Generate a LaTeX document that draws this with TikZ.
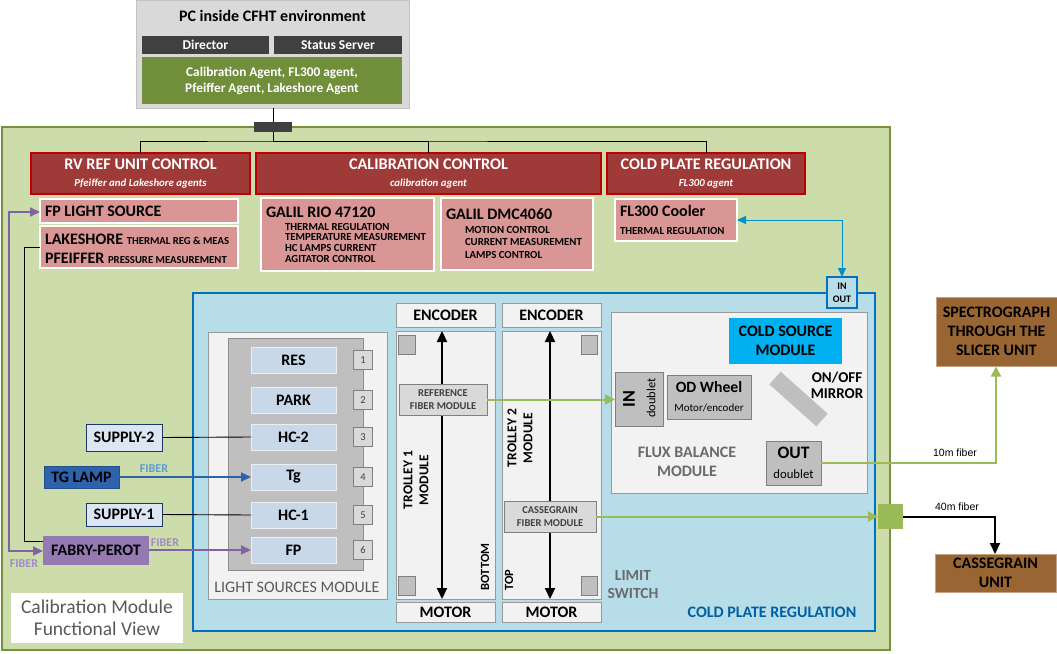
\documentclass[tikz,border=0pt]{standalone}
\usepackage{fontspec}
\setmainfont{Carlito}
\newfontfamily\arialf{Liberation Sans}
\usetikzlibrary{arrows.meta}
\definecolor{bgGreen}{HTML}{CDDCAB}
\definecolor{oliveB}{HTML}{76923C}
\definecolor{darkRed}{HTML}{9E3A37}
\definecolor{redB}{HTML}{C00000}
\definecolor{pinkF}{HTML}{D99694}
\definecolor{coldF}{HTML}{B7DDE8}
\definecolor{coldB}{HTML}{0070C0}
\definecolor{lightG}{HTML}{F2F2F2}
\definecolor{midG}{HTML}{BFBFBF}
\definecolor{lampF}{HTML}{C9D8E8}
\definecolor{brownF}{HTML}{996633}
\definecolor{tgF}{HTML}{2E63AB}
\definecolor{fpF}{HTML}{9479B3}
\definecolor{purpleL}{HTML}{8064A2}
\definecolor{fibGreen}{HTML}{9BBB59}
\definecolor{supF}{HTML}{DCE6F2}
\definecolor{supB}{HTML}{1F3864}
\definecolor{grayT}{HTML}{595959}
\definecolor{dkGray}{HTML}{404040}
\definecolor{pcG}{HTML}{D9D9D9}
\definecolor{agentG}{HTML}{718E3A}
\definecolor{cyanF}{HTML}{00B0F0}
\definecolor{fiberBlue}{HTML}{5B9BD5}
\definecolor{fiberPurp}{HTML}{A08CC4}
\tikzset{
  box/.style={inner sep=0pt, outer sep=0pt},
  hdr/.style={box, fill=darkRed, draw=redB, line width=1.2pt},
  pinkbox/.style={box, fill=pinkF, draw=white, line width=1.2pt},
  lamp/.style={box, fill=lampF, draw=lampF!80!black!20, line width=0.6pt, font=\bfseries\fontsize{16}{18}\selectfont},
  numbox/.style={box, fill=pcG, draw=gray, line width=1pt, font=\fontsize{10.5}{12}\selectfont, text=dkGray},
  lightbox/.style={box, fill=lightG, draw=gray!80, line width=1pt},
  graybox/.style={box, fill=midG, draw=gray, line width=1pt},
  sq/.style={box, fill=midG, draw=gray, line width=0.8pt},
  supply/.style={box, fill=supF, draw=supB, line width=1pt, font=\bfseries\fontsize{16}{18}\selectfont},
  wire/.style={black, line width=0.9pt},
  garrow/.style={fibGreen, line width=2pt, -{Triangle[length=10pt,width=10pt]}},
  btext/.style={font=\bfseries\fontsize{16}{18}\selectfont},
  lbl/.style={inner sep=0pt, outer sep=0pt}
}
\begin{document}
\begin{tikzpicture}[x=1pt,y=-1pt]
\useasboundingbox (0,0) rectangle (1057,653);
% main green area
\draw[fill=bgGreen, draw=oliveB, line width=2.5pt] (2,127) rectangle (890,650);
% PC box
\node[box, fill=pcG, draw=pcG!90!black, minimum width=273pt, minimum height=108pt, anchor=north west] (pc) at (136,0) {};
\node[lbl, font=\bfseries\fontsize{16}{18}\selectfont, text=black] (pct) at (272.5,16) {PC inside CFHT environment};
\node[box, fill=dkGray, minimum width=127pt, minimum height=18pt, anchor=north west, text=white, font=\bfseries\fontsize{13.5}{14}\selectfont] (dir) at (142,36) {Director};
\node[box, fill=dkGray, minimum width=128pt, minimum height=18pt, anchor=north west, text=white, font=\bfseries\fontsize{13.5}{14}\selectfont] (ss) at (274,36) {Status Server};
\node[box, fill=agentG, minimum width=260pt, minimum height=47pt, anchor=north west, text=white, font=\bfseries\fontsize{13.3}{16}\selectfont, align=center] (ag) at (142,57) {Calibration Agent, FL300 agent,\\Pfeiffer Agent, Lakeshore Agent};
% connector
\node[box, fill=dkGray, minimum width=38pt, minimum height=10pt] (hub) at (273,127) {};
\coordinate (hubb) at (273,141);
\draw[wire] (pc.south -| hub) -- (hub.north);
\draw[wire] (hub.south) -- (hubb);
% headers
\node[hdr, minimum width=219pt, minimum height=41pt, anchor=north west] (rv) at (31,153) {};
\node[hdr, minimum width=345pt, minimum height=41pt, anchor=north west] (cal) at (256,153) {};
\node[hdr, minimum width=198pt, minimum height=41pt, anchor=north west] (cp) at (607,153) {};
\draw[wire] (rv.north) |- (hubb) -| (cp.north);
\draw[wire] (hubb) -| (cal.north);
\foreach \n/\t/\s in {rv/RV REF UNIT CONTROL/Pfeiffer and Lakeshore agents, cal/CALIBRATION CONTROL/calibration agent, cp/COLD PLATE REGULATION/FL300 agent}{
  \node[lbl, text=white, font=\bfseries\fontsize{16.2}{18}\selectfont] at ([yshift=-11pt]\n.north) {\t};
  \node[lbl, text=white, font=\bfseries\itshape\fontsize{10.8}{12}\selectfont] at ([yshift=-31pt]\n.north) {\s};
}
% pink boxes
\node[pinkbox, minimum width=198pt, minimum height=24pt, anchor=north west] (fpls) at (40,199) {};
\node[lbl, anchor=west, font=\bfseries\fontsize{16}{18}\selectfont] at (45,211) {FP LIGHT SOURCE};
\node[pinkbox, minimum width=198pt, minimum height=42pt, anchor=north west] (lake) at (40,226) {};
\node[lbl, anchor=base west] at (45,244) {\bfseries\fontsize{16}{18}\selectfont LAKESHORE \fontsize{10.7}{12}\selectfont THERMAL REG \& MEAS};
\node[lbl, anchor=base west] at (45,263) {\bfseries\fontsize{16}{18}\selectfont PFEIFFER \fontsize{10.7}{12}\selectfont PRESSURE MEASUREMENT};
\node[pinkbox, minimum width=173pt, minimum height=73pt, anchor=north west] (rio) at (261,198) {};
\node[lbl, anchor=base west, font=\bfseries\fontsize{16}{18}\selectfont] at (266,217.5) {GALIL RIO 47120};
\node[lbl, anchor=north west, align=left, font=\bfseries\fontsize{10.8}{10.7}\selectfont] at (285,223) {THERMAL REGULATION\\TEMPERATURE MEASUREMENT\\HC LAMPS CURRENT\\AGITATOR CONTROL};
\node[pinkbox, minimum width=152pt, minimum height=72pt, anchor=north west] (dmc) at (441,198) {};
\node[lbl, anchor=base west, font=\bfseries\fontsize{16}{18}\selectfont] at (446,219.5) {GALIL DMC4060};
\node[lbl, anchor=north west, align=left, font=\bfseries\fontsize{10.8}{12.6}\selectfont] at (465,226) {MOTION CONTROL\\CURRENT MEASUREMENT\\LAMPS CONTROL};
\node[pinkbox, minimum width=122pt, minimum height=42pt, anchor=north west] (fl) at (615,199) {};
\node[lbl, anchor=base west, font=\bfseries\fontsize{16}{18}\selectfont] at (620,216) {FL300 Cooler};
\node[lbl, anchor=base west, font=\bfseries\fontsize{10.8}{12}\selectfont] at (620,234) {THERMAL REGULATION};
% cold plate area
\draw[fill=coldF, draw=coldB, line width=2.5pt] (193,293) rectangle (875,631);
\node[lbl, text=coldB!85!black, font=\bfseries\fontsize{16}{18}\selectfont] (cpl) at (772,612) {COLD PLATE REGULATION};
% IN OUT
\node[box, fill=coldF, draw=coldB, line width=1.5pt, minimum width=30pt, minimum height=31pt, anchor=north west, align=center, font=\bfseries\fontsize{10}{13}\selectfont] (io) at (827,277) {IN\\OUT};
\draw[coldB!80!cyan, line width=1pt, {Triangle[length=9pt,width=8pt]}-{Triangle[length=9pt,width=8pt]}] (fl.east |- 0,220) -| (io.north);
% light sources module
\node[lightbox, minimum width=179pt, minimum height=267pt, anchor=north west] (lsm) at (208,332) {};
\node[box, fill=midG, draw=gray!90, line width=1pt, minimum width=135pt, minimum height=232pt, anchor=north west] (lsi) at (228,338) {};
\node[lbl, text=grayT, font=\fontsize{16}{18}\selectfont] at (297,587) {LIGHT SOURCES MODULE};
\foreach \nm/\t/\y/\k in {res/RES/360/1, park/PARK/400/2, hctwo/HC-2/437/3, tg/Tg/477/4, hcone/HC-1/515/5, fp/FP/550/6}{
  \node[lamp, minimum width=85pt, minimum height=26pt] (\nm) at (293.5,\y) {\t};
  \node[numbox, minimum width=19pt, minimum height=19pt] (n\k) at (363,\y) {\k};
}
% supplies & lamps
\node[supply, minimum width=76pt, minimum height=27pt, anchor=north west] (s2) at (86,424) {SUPPLY-2};
\node[supply, minimum width=76pt, minimum height=23pt, anchor=north west] (s1) at (86,503) {SUPPLY-1};
\node[box, fill=tgF, draw=tgF!80!black, line width=0.6pt, minimum width=75pt, minimum height=22pt, anchor=north west, btext] (tgl) at (44,466) {TG LAMP};
\node[box, fill=fpF, minimum width=106pt, minimum height=29pt, anchor=north west, btext] (fab) at (43,536) {FABRY-PEROT};
\draw[wire] (s2.east) -- (hctwo.west);
\draw[wire] (s1.east) -- (hcone.west);
\draw[tgF, line width=2pt, -{Triangle[length=10pt,width=9pt]}] (tgl.east) -- (tg.west);
\node[lbl, text=fiberBlue, font=\bfseries\fontsize{12}{13}\selectfont] at (154,469) {FIBER};
\draw[purpleL, line width=2pt, -{Triangle[length=10pt,width=9pt]}] (fab.east |- fp) -- (fp.west);
\node[lbl, text=fiberPurp, font=\bfseries\fontsize{12}{13}\selectfont] at (165,543) {FIBER};
\node[lbl, text=fiberPurp, font=\bfseries\fontsize{12}{13}\selectfont] at (24,564) {FIBER};
\coordinate (pvt) at (9,212);
\coordinate (pvb) at (9,551);
\draw[purpleL, line width=2pt, {Triangle[length=10pt,width=9pt]}-{Triangle[length=10pt,width=9pt]}] (fpls.west |- pvt) -- (pvt) -- (pvb) -- (fab.west |- pvb);
\coordinate (bkt) at (24,247);
\coordinate (bkb) at (24,541);
\draw[wire] (lake.west |- bkt) -- (bkt) -- (bkb) -- (fab.west |- bkb);
% caption
\node[box, fill=white, minimum width=172pt, minimum height=50pt, anchor=north west, align=center, text=grayT, font=\fontsize{19.5}{22}\selectfont] (cap) at (11,593) {Calibration Module\\Functional View};
% trolleys
\foreach \tx/\tn in {396/a, 502/b}{
  \node[lightbox, minimum width=99pt, minimum height=24pt, anchor=north west, font=\bfseries\fontsize{16}{18}\selectfont] (enc\tn) at (\tx,303) {ENCODER};
  \node[lightbox, minimum width=99pt, minimum height=268pt, anchor=north west] (tr\tn) at (\tx,331) {};
  \node[lightbox, minimum width=99pt, minimum height=20pt, anchor=north west, font=\bfseries\fontsize{16}{18}\selectfont] (mot\tn) at (\tx,602) {MOTOR};
}
\node[sq, minimum width=17pt, minimum height=19pt, anchor=north west] (sqa1) at (398,335) {};
\node[sq, minimum width=17pt, minimum height=19pt, anchor=north west] (sqa2) at (398,576) {};
\node[sq, minimum width=16pt, minimum height=19pt, anchor=north west] (sqb1) at (581,335) {};
\node[sq, minimum width=16pt, minimum height=19pt, anchor=north west] (sqb2) at (581,576) {};
\coordinate (ta1) at (442,331); \coordinate (ta2) at (442,599);
\coordinate (tb1) at (550,331); \coordinate (tb2) at (550,599);
\draw[black, line width=2.2pt, {Triangle[length=11pt,width=10pt]}-{Triangle[length=11pt,width=10pt]}] (ta1) -- (ta2);
\draw[black, line width=2.2pt, {Triangle[length=11pt,width=10pt]}-{Triangle[length=11pt,width=10pt]}] (tb1) -- (tb2);
\node[box, fill=pcG, draw=gray, line width=0.8pt, minimum width=88pt, minimum height=31pt, anchor=north west, align=center, font=\bfseries\fontsize{10.5}{12.5}\selectfont, text=dkGray] (ref) at (399,384) {REFERENCE\\FIBER MODULE};
\node[box, fill=pcG, draw=gray, line width=0.8pt, minimum width=92pt, minimum height=31pt, anchor=north west, align=center, font=\bfseries\fontsize{10.5}{12.5}\selectfont, text=dkGray] (cas) at (504,501) {CASSEGRAIN\\FIBER MODULE};
\node[lbl, rotate=90, align=center, font=\bfseries\fontsize{13.5}{16}\selectfont] at (416,480) {TROLLEY 1\\MODULE};
\node[lbl, rotate=90, align=center, font=\bfseries\fontsize{13.5}{16}\selectfont] at (520,438) {TROLLEY 2\\MODULE};
\node[lbl, rotate=90, font=\bfseries\fontsize{12.5}{14}\selectfont] at (485,567) {BOTTOM};
\node[lbl, rotate=90, font=\bfseries\fontsize{12.5}{14}\selectfont] at (509,580) {TOP};
\node[lbl, align=center, text=grayT!90, font=\bfseries\fontsize{15.5}{18}\selectfont] at (633,585) {LIMIT\\SWITCH};
% flux balance
\node[lightbox, minimum width=256pt, minimum height=181pt, anchor=north west] (flux) at (611,312) {};
\node[box, fill=cyanF, minimum width=113pt, minimum height=46pt, anchor=north west, align=center, font=\bfseries\fontsize{16}{19}\selectfont] (cold) at (729,318) {COLD SOURCE\\MODULE};
\node[graybox, minimum width=48pt, minimum height=54pt, anchor=north west] (inb) at (615,372) {};
\node[lbl, rotate=90, font=\bfseries\fontsize{18}{18}\selectfont] at (629,399) {IN};
\node[lbl, rotate=90, font=\fontsize{12.5}{14}\selectfont] at (651,398) {doublet};
\node[graybox, minimum width=84pt, minimum height=44pt, anchor=north west] (od) at (667,375) {};
\node[lbl, font=\bfseries\fontsize{15.7}{18}\selectfont] at (709,387) {OD Wheel};
\node[lbl, font=\fontsize{11}{12}\selectfont] at (709,408) {Motor/encoder};
\fill[midG] (769.3,384.3) -- (780.7,371.7) -- (827.7,413.7) -- (816.3,426.3) -- cycle;
\node[lbl, align=center, font=\bfseries\fontsize{15}{16}\selectfont] at (837,385) {ON/OFF\\MIRROR};
\node[graybox, minimum width=55pt, minimum height=44pt, anchor=north west] (outb) at (766,441) {};
\node[lbl, font=\bfseries\fontsize{17.5}{18}\selectfont] at (793.5,453) {OUT};
\node[lbl, font=\fontsize{12.7}{14}\selectfont] at (793.5,474) {doublet};
\node[lbl, align=center, text=grayT!90, font=\bfseries\fontsize{16}{19.5}\selectfont] at (687,462) {FLUX BALANCE\\MODULE};
% fiber arrows
\draw[garrow] (ref.east) -- (inb.west |- ref.east);
\node[box, fill=fibGreen, minimum width=25pt, minimum height=25pt, anchor=north west] (gsq) at (878,504) {};
\draw[garrow] (cas.east |- gsq) -- (gsq.west);
\node[box, fill=brownF, draw=brownF!60!white, line width=0.6pt, minimum width=121pt, minimum height=69pt, anchor=north west, align=center, font=\bfseries\fontsize{16}{19}\selectfont] (spec) at (936,297) {SPECTROGRAPH\\THROUGH THE\\SLICER UNIT};
\node[box, fill=brownF, draw=brownF!60!white, line width=0.6pt, minimum width=121pt, minimum height=38pt, anchor=north west, align=center, font=\bfseries\fontsize{16}{19}\selectfont] (casu) at (935,554) {CASSEGRAIN\\UNIT};
\draw[garrow] (outb.east |- 0,463) -| (996,366.5);
\node[lbl, font=\arialf\fontsize{10.5}{12}\selectfont] at (955,453) {10m fiber};
\draw[black, line width=2pt, -{Triangle[length=11pt,width=10pt]}] (gsq.east) -| (995,554);
\node[lbl, font=\arialf\fontsize{10.5}{12}\selectfont] at (957,507) {40m fiber};
\end{tikzpicture}
\end{document}
